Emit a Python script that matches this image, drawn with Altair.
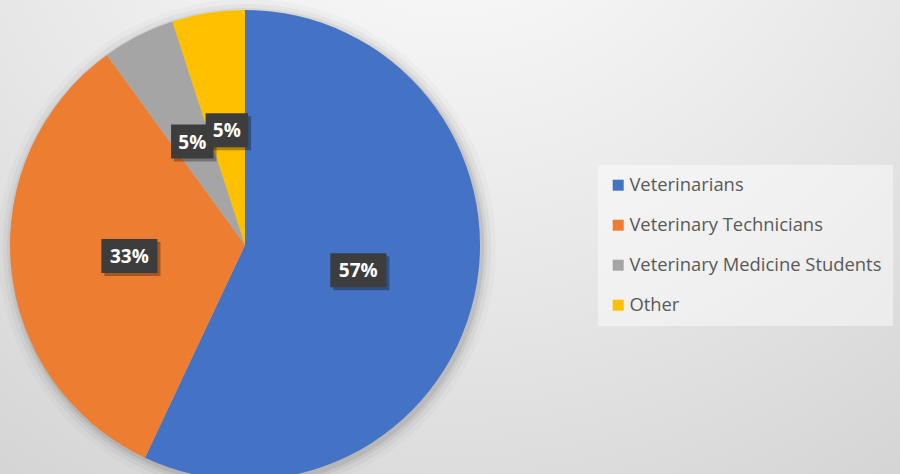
import altair as alt
import pandas as pd

categories = ["Veterinarians", "Veterinary Technicians", "Veterinary Medicine Students", "Other"]
values = [57, 33, 5, 5]
labels = ["57%", "33%", "5%", "5%"]
colors = ["#4472C4", "#ED7D31", "#A5A5A5", "#FFC000"]

df = pd.DataFrame({"cat": categories, "v": values, "lab": labels, "idx": list(range(len(categories)))})

W, H = 900, 474
CX, CY, R = 245, 245, 235
LR = 0.494  # label radius as fraction of pie radius

bg = alt.Chart(alt.Data(values=[{"a": 1}])).mark_rect(
    color=alt.Gradient(
        gradient="radial",
        x1=0.5, y1=0.02, r1=0.0,
        x2=0.5, y2=0.02, r2=1.12,
        stops=[alt.GradientStop(color="#ffffff", offset=0),
               alt.GradientStop(color="#e6e6e6", offset=0.5),
               alt.GradientStop(color="#c9c9c9", offset=1)],
    )
).encode(x=alt.value(0), x2=alt.value(W), y=alt.value(0), y2=alt.value(H))

shadows = []
for dr, op in [(2, 0.07), (5, 0.05), (9, 0.035), (14, 0.02)]:
    shadows.append(
        alt.Chart(alt.Data(values=[{"a": 1}])).mark_arc(
            radius=R + dr, color="#000000", opacity=op
        ).encode(x=alt.value(CX + 2), y=alt.value(CY + 3),
                 theta=alt.value(0), theta2=alt.value(6.2832))
    )

base = alt.Chart(df)

pie = base.mark_arc(radius=R).encode(
    x=alt.value(CX), y=alt.value(CY),
    theta=alt.Theta("v:Q", stack=True),
    color=alt.Color("cat:N", sort=categories,
                    scale=alt.Scale(domain=categories, range=colors),
                    legend=alt.Legend(title=None)),
    order=alt.Order("idx:Q"),
)

lab_base = base.transform_joinaggregate(total="sum(v)").transform_window(
    cum="sum(v)", sort=[alt.SortField("idx")], frame=[None, 0]
).transform_calculate(
    mid="(datum.cum - datum.v / 2) / datum.total * 2 * PI",
).transform_calculate(
    px=f"{LR} * sin(datum.mid)",
    py=f"-{LR} * cos(datum.mid)",
)

xs = alt.X("px:Q", scale=alt.Scale(domain=[-1, 1], range=[CX - R, CX + R]), axis=None)
ys = alt.Y("py:Q", scale=alt.Scale(domain=[-1, 1], range=[CY - R, CY + R]), axis=None)

wide = "M-1.65,-1L1.65,-1L1.65,1L-1.65,1Z"
narrow = "M-1.25,-1L1.25,-1L1.25,1L-1.25,1Z"
shape_enc = alt.condition("datum.v >= 10", alt.value(wide), alt.value(narrow))

box_shadow = lab_base.mark_point(filled=True, color="#000000", opacity=0.3,
                                 size=1156, xOffset=3, yOffset=3, strokeWidth=0).encode(
    x=xs, y=ys, shape=shape_enc)
box = lab_base.mark_point(filled=True, color="#3d3d3d", opacity=1,
                          size=1156, strokeWidth=0).encode(
    x=xs, y=ys, shape=shape_enc)
txt = lab_base.mark_text(font="Open Sans", fontSize=19, fontWeight="bold",
                         color="#ffffff", align="center", baseline="middle", dy=1).encode(
    x=xs, y=ys, text="lab:N")

chart = alt.layer(bg, *shadows, pie, box_shadow, box, txt).properties(
    width=W, height=H, padding=0, autosize=alt.AutoSizeParams(type="none")
).configure_view(stroke=None).configure_legend(
    orient="none", legendX=598, legendY=165,
    fillColor="rgba(255,255,255,0.45)", padding=11, rowPadding=21,
    symbolType="square", symbolSize=121, symbolStrokeWidth=0,
    labelFont="Open Sans", labelFontSize=18.4, labelColor="#595959",
    labelOffset=2, labelLimit=400,
)

chart.save("out.html", embed_options={"renderer": "svg", "actions": False})
